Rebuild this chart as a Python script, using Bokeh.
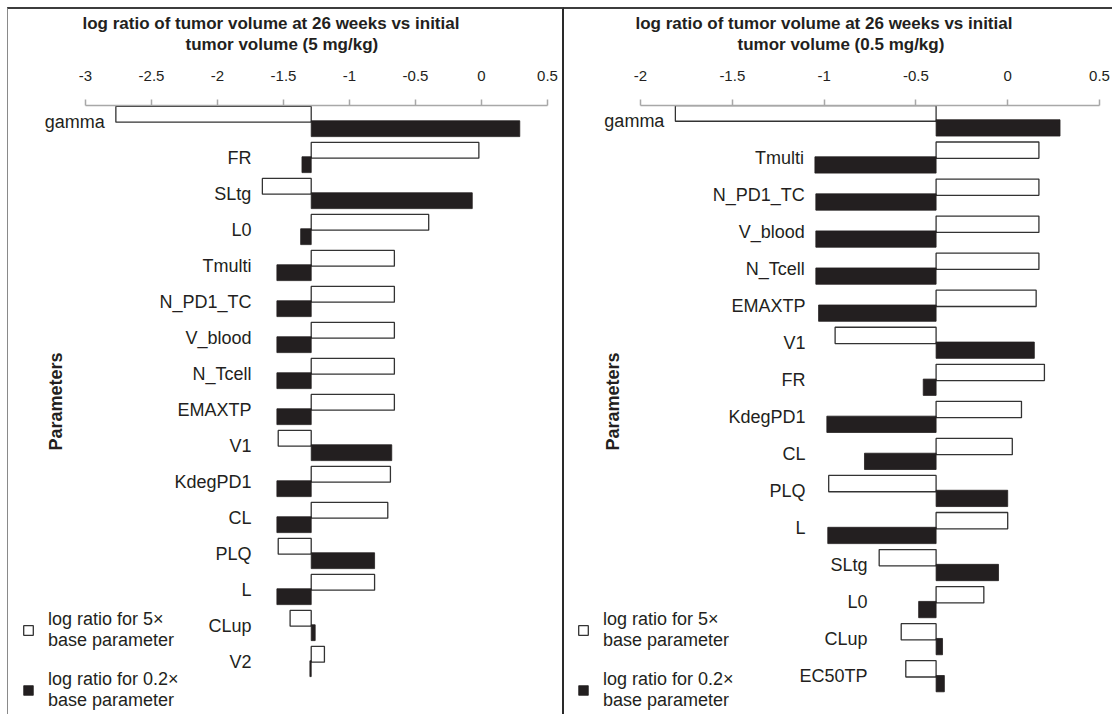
import math
from bokeh.plotting import figure
from bokeh.models import (Range1d, FixedTicker, ColumnDataSource, Title, Label,
                          Legend, LegendItem)
from bokeh.layouts import row
from bokeh.embed import file_html
from bokeh.resources import INLINE
from bokeh.core.properties import value

# ---------------- data ----------------
panel5_title = ["log ratio of tumor volume at 26 weeks vs initial",
                "tumor volume (5 mg/kg)"]
panel5_params = ["gamma", "FR", "SLtg", "L0", "Tmulti", "N_PD1_TC", "V_blood",
                 "N_Tcell", "EMAXTP", "V1", "KdegPD1", "CL", "PLQ", "L", "CLup", "V2"]
panel5_base = -1.29
panel5_up = [-2.77, -0.02, -1.66, -0.40, -0.66, -0.66, -0.66, -0.66, -0.66,
             -1.54, -0.69, -0.71, -1.54, -0.81, -1.45, -1.19]
panel5_down = [0.29, -1.36, -0.07, -1.37, -1.55, -1.55, -1.55, -1.55, -1.55,
               -0.68, -1.55, -1.55, -0.81, -1.55, -1.26, -1.30]
panel5_ticks = [-3, -2.5, -2, -1.5, -1, -0.5, 0, 0.5]

panel05_title = ["log ratio of tumor volume at 26 weeks vs initial",
                 "tumor volume (0.5 mg/kg)"]
panel05_params = ["gamma", "Tmulti", "N_PD1_TC", "V_blood", "N_Tcell", "EMAXTP",
                  "V1", "FR", "KdegPD1", "CL", "PLQ", "L", "SLtg", "L0", "CLup", "EC50TP"]
panel05_base = -0.39
panel05_up = [-1.81, 0.17, 0.17, 0.17, 0.17, 0.155, -0.94, 0.20, 0.075, 0.025,
              -0.975, 0.0, -0.70, -0.13, -0.58, -0.555]
panel05_down = [0.285, -1.05, -1.045, -1.045, -1.045, -1.03, 0.145, -0.46, -0.985,
                -0.78, 0.0, -0.98, -0.05, -0.485, -0.355, -0.345]
panel05_ticks = [-2, -1.5, -1, -0.5, 0, 0.5]

legend_labels = ["log ratio for 5\u00d7\nbase parameter",
                 "log ratio for 0.2\u00d7\nbase parameter"]
y_title = "Parameters"

# ---------------- layout / style (page pixel coordinates) ----------------
FONT = "Liberation Sans"
INK = "#231f20"
H = 707
TOP_ABS = 9                 # first content row below the 2px top rule
FRAME_TOP_ABS = 105
FRAME_BOTTOM_ABS = TOP_ABS + H

LEFT = dict(x0=8, width=557, tick_px=(85, 547), row0=121, row_step=36.0,
            label_cap=[251] * 16, ylab=(55, 401), legend_x=22,
            title_left=(82, 185),
            styles={"border-top": "2px solid #3c3c3c",
                    "border-left": "1px solid #8a8a8a",
                    "border-right": "2px solid #2a2a2a"})
RIGHT = dict(x0=567, width=548, tick_px=(643, 1102), row0=120, row_step=37.05,
             label_cap=[808] * 12 + [870] * 4, ylab=(615, 401), legend_x=580,
             title_left=(638, 740),
             styles={"border-top": "2px solid #3c3c3c"})


def make_panel(title_lines, params, base, up, down, ticks, L):
    px_a, px_b = L["tick_px"]
    scale = (px_b - px_a) / (ticks[-1] - ticks[0])

    def xd(px):
        return ticks[0] + (px - px_a) / scale

    def yd(py):
        return (py - L["row0"]) / L["row_step"]

    p = figure(width=L["width"], height=H, output_backend="svg",
               toolbar_location=None, x_axis_location="above",
               y_axis_location=None, title=None,
               x_range=Range1d(xd(L["x0"]), xd(L["x0"] + L["width"])),
               y_range=Range1d(yd(FRAME_BOTTOM_ABS), yd(FRAME_TOP_ABS)),
               min_border_left=0, min_border_right=0, min_border_bottom=0,
               min_border_top=FRAME_TOP_ABS - TOP_ABS,
               outline_line_color=None, styles=L["styles"])
    p.xgrid.visible = False
    p.ygrid.visible = False

    idx = list(range(len(params)))
    up_src = ColumnDataSource(dict(
        y=[i - 0.2 for i in idx],
        left=[min(base, v) for v in up],
        right=[max(base, v) for v in up]))
    down_src = ColumnDataSource(dict(
        y=[i + 0.2 for i in idx],
        left=[min(base, v) for v in down],
        right=[max(base, v) for v in down]))
    r_up = p.hbar(y="y", left="left", right="right", height=0.44, source=up_src,
                  fill_color="white", line_color="#333333", line_width=1.3)
    r_down = p.hbar(y="y", left="left", right="right", height=0.44, source=down_src,
                    fill_color=INK, line_color=INK, line_width=0.8)

    pad = 11 / scale
    lab_x = [min(xd(L["label_cap"][i]), min(base, up[i], down[i]) - pad) for i in idx]
    p.text(x=lab_x, y=idx, text=params, text_align="right", text_baseline="middle",
           text_font=value(FONT), text_font_size="18px", text_color=INK)

    ax = p.xaxis[0]
    ax.ticker = FixedTicker(ticks=ticks)
    ax.bounds = (ticks[0], ticks[-1])
    ax.major_label_overrides = {t: f"{t:g}" for t in ticks}
    ax.axis_line_color = "#a8a8a8"
    ax.axis_line_width = 1.5
    ax.major_tick_line_color = "#a8a8a8"
    ax.major_tick_line_width = 1.5
    ax.major_tick_out = 6
    ax.major_tick_in = 0
    ax.minor_tick_line_color = None
    ax.major_label_standoff = 19
    ax.major_label_text_font = FONT
    ax.major_label_text_font_size = "15px"
    ax.major_label_text_color = INK

    # second line sits closest to the axis, first line above it
    for line, left_px, stand in ((title_lines[1], L["title_left"][1], 27),
                                 (title_lines[0], L["title_left"][0], -26)):
        p.add_layout(Title(text=line, align="left", offset=left_px - L["x0"],
                           text_font=FONT, text_font_size="17px",
                           text_font_style="bold", text_color=INK,
                           standoff=stand), "above")

    p.add_layout(Label(x=xd(L["ylab"][0]), y=yd(L["ylab"][1]), text=y_title,
                       angle=math.pi / 2, text_align="center",
                       text_baseline="middle", text_font=FONT,
                       text_font_size="18px", text_font_style="bold",
                       text_color=INK))

    legend = Legend(items=[LegendItem(label=legend_labels[0], renderers=[r_up]),
                           LegendItem(label=legend_labels[1], renderers=[r_down])],
                    location=(L["legend_x"] - L["x0"], FRAME_BOTTOM_ABS - 711),
                    padding=0, margin=0, spacing=18,
                    glyph_width=12, glyph_height=12, label_standoff=14,
                    label_text_font=FONT, label_text_font_size="18px",
                    label_text_color=INK, label_text_line_height=1.2,
                    background_fill_alpha=0, border_line_alpha=0)
    p.add_layout(legend)
    return p


p1 = make_panel(panel5_title, panel5_params, panel5_base, panel5_up, panel5_down,
                panel5_ticks, LEFT)
p2 = make_panel(panel05_title, panel05_params, panel05_base, panel05_up, panel05_down,
                panel05_ticks, RIGHT)
layout = row(p1, p2, styles={"margin-left": "7px", "margin-top": "7px"})

with open("out.html", "w", encoding="utf-8") as f:
    f.write(file_html(layout, INLINE))
